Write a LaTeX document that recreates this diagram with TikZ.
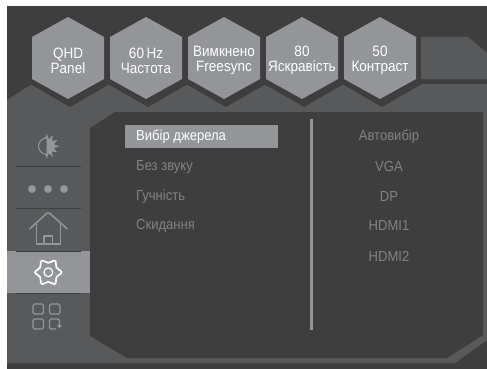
\documentclass[tikz,border=0pt]{standalone}
\usepackage{fontspec}
\setmainfont[FakeStretch=0.9]{Liberation Sans}
\definecolor{bgdark}{HTML}{3E3E3E}
\definecolor{panelc}{HTML}{58595B}
\definecolor{hexc}{HTML}{939598}
\definecolor{dimtext}{HTML}{808285}
\tikzset{
  x=1pt,y=-1pt,
  hexbox/.style={fill=hexc,draw=none},
  hexlabel/.style={text=white,font=\fontsize{15}{15}\selectfont,align=center,inner sep=0pt},
  menuitem/.style={text=dimtext,font=\fontsize{14.5}{15}\selectfont,anchor=west,inner sep=0pt},
  sourceitem/.style={text=dimtext,font=\fontsize{14.5}{15}\selectfont,inner sep=0pt},
  divider/.style={draw=bgdark,line width=1pt},
  iconline/.style={draw=hexc,line width=1.3pt,line join=round,fill=none},
}
\newcommand{\hexshadow}[1]{\fill[bgdark] (#1-38,84)--(#1+2,107)--(#1+42,84)--cycle;}
\begin{document}
\begin{tikzpicture}
\useasboundingbox (0,0) rectangle (487,369);
\fill[white] (0,0) rectangle (487,369);
\fill[bgdark] (7,6) rectangle (487,369);
% upper right tab
\fill[panelc] (421,37)--(468,37)--(487,53)--(487,79)--(421,79)--cycle;
% main panel
\fill[panelc] (7,100)--(32,84)--(487,84)--(487,340)--(455,363)--(7,363)--cycle;
\foreach \c in {68,146,224,302,380}{\hexshadow{\c}}
\foreach \c in {68,146,224,302,380}{\fill[hexbox] (\c,17)--(\c+36,37)--(\c+36,79)--(\c,99)--(\c-36,79)--(\c-36,37)--cycle;}
% inner panel
\fill[bgdark] (115,112)--(483,112)--(483,335)--(447,358)--(127,358)--(90,336)--(90,128)--cycle;
% hex labels
\node[hexlabel] (h1) at (68,60.5) {QHD\\Panel};
\node[hexlabel] (h2) at (146,60.5) {60\,Hz\\Частота};
\node[hexlabel] (h3) at (224,60.5) {Вимкнено\\Freesync};
\node[hexlabel] (h4) at (302,60.5) {80\\Яскравість};
\node[hexlabel] (h5) at (380,60.5) {50\\Контраст};
% menu
\fill[hexc] (125,125) rectangle (278,148);
\node[menuitem,text=white] (m1) at (136,137) {Вибір джерела};
\node[menuitem] (m2) at (136,167) {Без звуку};
\node[menuitem] (m3) at (136,197) {Гучність};
\node[menuitem] (m4) at (136,226) {Скидання};
\fill[hexc] (310,119) rectangle (312.5,330);
\node[sourceitem] (s1) at (389,137) {Автовибір};
\node[sourceitem] (s2) at (389,167) {VGA};
\node[sourceitem] (s3) at (389,196.5) {DP};
\node[sourceitem] (s4) at (389,226) {HDMI1};
\node[sourceitem] (s5) at (389,256) {HDMI2};
% sidebar
\fill[hexc] (7,251) rectangle (90,293);
\draw[divider] (16,166)--(81,166);
\draw[divider] (16,208.5)--(81,208.5);
\draw[divider] (16,251)--(81,251);
\draw[divider] (16,293)--(81,293);
% sun
\draw[iconline,line width=1pt] (46.7,138) arc (-90:-270:8.2);
\fill[hexc] (46.7,138) arc (-90:90:8.2)--cycle;
\begin{scope}[shift={(46.7,146.2)}]
\foreach \a in {-90,-60,-30,0,30,60,90}{\fill[hexc] (\a-11:8)--(\a:12.5)--(\a+11:8)--cycle;}
\end{scope}
% dots
\foreach \x in {32,48,64}{\fill[hexc] (\x,189) circle (4);}
% home
\draw[iconline,line width=1.5pt,rounded corners=1.5pt] (29.5,229)--(48.3,212)--(67.3,229);
\draw[iconline] (36.3,223)--(36.3,244)--(60.5,244)--(60.5,223);
\draw[iconline] (44,244)--(44,236)--(52.5,236)--(52.5,244);
% gear
\draw[white,line width=1.7pt,line join=round]
 plot[smooth cycle,tension=.7] coordinates {
 (61.6,272.3)(56.5,267.6)(55,260.7)(48.3,262.8)(41.6,260.7)(40.1,267.6)(35,272.3)(40.1,277)(41.6,283.9)(48.3,281.8)(55,283.9)(56.5,277)};
\draw[white,line width=1.2pt] (48.3,272.3) circle (4.4);
% apps
\draw[iconline,rounded corners=1.5pt] (33,304) rectangle (43.5,314);
\draw[iconline,rounded corners=1.5pt] (49.5,304) rectangle (60,314);
\draw[iconline,rounded corners=1.5pt] (33,319) rectangle (43.5,329);
\draw[iconline,rounded corners=1.5pt] (59.5,326) -- (59.5,319) -- (49.5,319) -- (49.5,329) -- (56,329);
\fill[hexc] (57,325)--(62,325)--(59.5,328.5)--cycle;
\end{tikzpicture}
\end{document}
